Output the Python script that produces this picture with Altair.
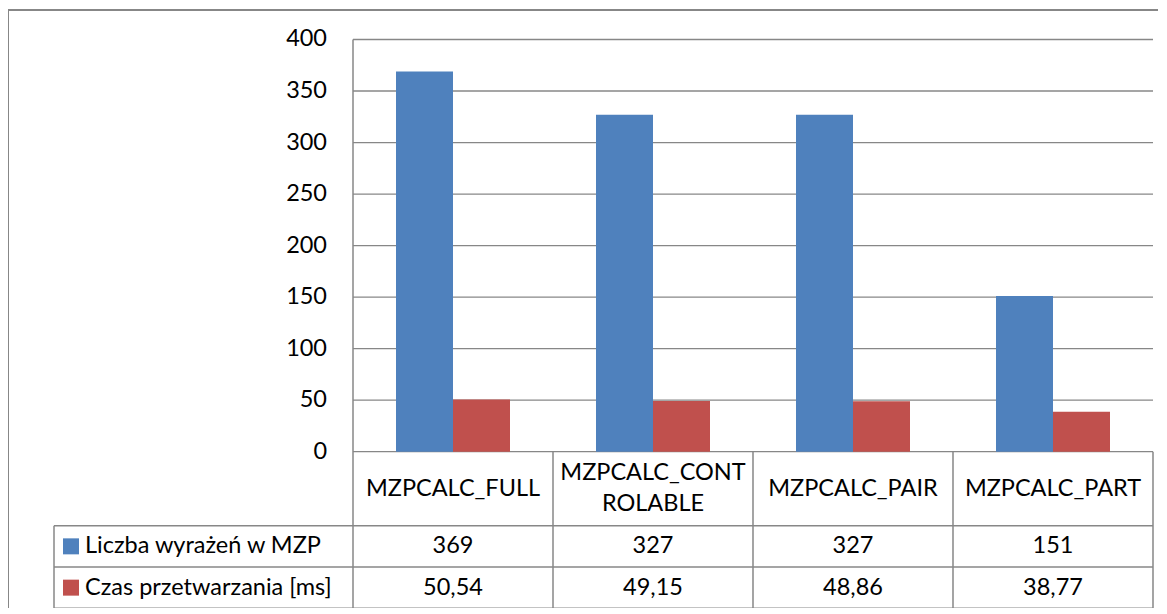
import altair as alt
import pandas as pd

# ---------------- data ----------------
categories = ["MZPCALC_FULL", "MZPCALC_CONTROLABLE", "MZPCALC_PAIR", "MZPCALC_PART"]
series_names = ["Liczba wyrażeń w MZP", "Czas przetwarzania [ms]"]
liczba = [369, 327, 327, 151]
czas = [50.54, 49.15, 48.86, 38.77]
series_colors = ["#4F81BD", "#C0504D"]
y_ticks = [0, 50, 100, 150, 200, 250, 300, 350, 400]

# ---------------- layout constants (pixels) ----------------
FONT = "Lato"
FS = 23.5
GRID = "#878787"
PPU = 412.2 / 400.0          # pixels per value unit
CAT_W = 200.0                # pixels per category
N = len(categories)
W = CAT_W * N
LEG_W = 299.0
HEADER_H = 74.0
ROW_H = 41.3
LINE_H = 30.5
PLOT_H = 400 * PPU
H = PLOT_H + HEADER_H + 2 * ROW_H
Y_MIN = 400 - H / PPU
X_MIN = -LEG_W / CAT_W


def ux(px):
    return px / CAT_W


def uy(px):
    return px / PPU


xs = alt.Scale(domain=[0, N], nice=False, zero=False)
ys = alt.Scale(domain=[Y_MIN, 400], nice=False, zero=False)

# ---------------- bars ----------------
BAR_OFF = ux(43)
BAR_W = ux(57)
bar_rows = []
for i, c in enumerate(categories):
    for s, vals in enumerate([liczba, czas]):
        x0 = i + BAR_OFF + s * BAR_W
        bar_rows.append({"cat": c, "series": series_names[s], "value": vals[i],
                         "x0": x0, "x1": x0 + BAR_W})
bars_df = pd.DataFrame(bar_rows)

bars = alt.Chart(bars_df).mark_rect().encode(
    x=alt.X("x0:Q", scale=xs, axis=None),
    x2="x1:Q",
    y=alt.Y("value:Q", scale=ys, axis=None),
    y2=alt.datum(0),
    color=alt.Color("series:N", scale=alt.Scale(domain=series_names, range=series_colors), legend=None),
)

# ---------------- gridlines & y labels ----------------
grid_df = pd.DataFrame({"v": y_ticks, "x0": [0] * len(y_ticks), "x1": [N] * len(y_ticks)})
grid = alt.Chart(grid_df).mark_rule(color=GRID, strokeWidth=1.3).encode(
    x=alt.X("x0:Q", scale=xs, axis=None), x2="x1:Q",
    y=alt.Y("v:Q", scale=ys, axis=None),
)
ylabels = alt.Chart(grid_df).mark_text(
    align="right", baseline="middle", dx=-26, font=FONT, fontSize=FS, color="#000000"
).encode(
    x=alt.X("x0:Q", scale=xs, axis=None),
    y=alt.Y("v:Q", scale=ys, axis=None),
    text=alt.Text("v:Q"),
)

# ---------------- table lines ----------------
r1 = -uy(HEADER_H)
r2 = -uy(HEADER_H + ROW_H)
r3 = Y_MIN
lines = []
for yy in [r1, r2, r3]:
    lines.append({"x0": X_MIN, "x1": N, "y0": yy, "y1": yy})
lines.append({"x0": X_MIN, "x1": X_MIN, "y0": r1, "y1": r3})
lines.append({"x0": 0, "x1": 0, "y0": 400, "y1": r3})
for k in range(1, N + 1):
    lines.append({"x0": k, "x1": k, "y0": 0, "y1": r3})
lines_df = pd.DataFrame(lines)
table_lines = alt.Chart(lines_df).mark_rule(color=GRID, strokeWidth=1.5).encode(
    x=alt.X("x0:Q", scale=xs, axis=None), x2="x1:Q",
    y=alt.Y("y0:Q", scale=ys, axis=None), y2="y1:Q",
)

# ---------------- table text ----------------
def wrap(s, n=12):
    return [s] if len(s) <= n else [s[:n], s[n:]]


def fmt(v):
    return f"{v:.2f}".replace(".", ",") if isinstance(v, float) else str(v)


cells = []
for i, c in enumerate(categories):
    parts = wrap(c)
    k = len(parts)
    for j, p in enumerate(parts):
        off = (j - (k - 1) / 2) * LINE_H
        cells.append({"x": i + 0.5, "y": -uy(HEADER_H / 2 + off), "t": p})
    cells.append({"x": i + 0.5, "y": -uy(HEADER_H + ROW_H / 2), "t": fmt(liczba[i])})
    cells.append({"x": i + 0.5, "y": -uy(HEADER_H + 1.5 * ROW_H), "t": fmt(czas[i])})
cells_df = pd.DataFrame(cells)
cell_text = alt.Chart(cells_df).mark_text(
    align="center", baseline="middle", font=FONT, fontSize=FS, color="#000000",
).encode(
    x=alt.X("x:Q", scale=xs, axis=None),
    y=alt.Y("y:Q", scale=ys, axis=None),
    text="t:N",
)

# ---------------- legend column ----------------
leg_df = pd.DataFrame({
    "series": series_names,
    "y": [-uy(HEADER_H + ROW_H / 2), -uy(HEADER_H + 1.5 * ROW_H)],
    "xs": [X_MIN + ux(17)] * 2,
    "xt": [X_MIN + ux(31)] * 2,
})
leg_sq = alt.Chart(leg_df).mark_square(size=256, opacity=1, strokeWidth=0).encode(
    x=alt.X("xs:Q", scale=xs, axis=None),
    y=alt.Y("y:Q", scale=ys, axis=None),
    color=alt.Color("series:N", scale=alt.Scale(domain=series_names, range=series_colors), legend=None),
)
leg_txt = alt.Chart(leg_df).mark_text(
    align="left", baseline="middle", font=FONT, fontSize=FS, color="#000000"
).encode(
    x=alt.X("xt:Q", scale=xs, axis=None),
    y=alt.Y("y:Q", scale=ys, axis=None),
    text="series:N",
)

# ---------------- outer frame ----------------
frame = alt.Chart(pd.DataFrame({"a": [0]})).mark_rect(
    fill=None, stroke=GRID, strokeWidth=2
).encode(
    x=alt.value(-345), x2=alt.value(2000),
    y=alt.value(-29.5), y2=alt.value(2000),
)

chart = alt.layer(
    frame, grid, bars, table_lines, ylabels, cell_text, leg_sq, leg_txt
).properties(
    width=W, height=H,
    padding={"left": 345, "top": 31.5, "right": 5, "bottom": 0},
    autosize=alt.AutoSizeParams(type="none"),
    background="white",
).configure_view(stroke=None)

chart.save("out.html", embed_options={"renderer": "svg", "actions": False})
